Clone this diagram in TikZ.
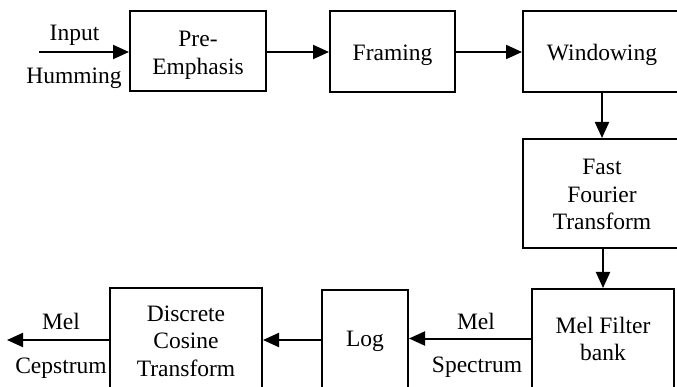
\documentclass[tikz,border=0pt]{standalone}
\usepackage{fontspec}
\setmainfont{Liberation Serif}
\usetikzlibrary{arrows.meta}
% block text: centred lines, optionally lowered inside the box
\newcommand\btext[2][0pt]{\raisebox{-#1}[\height][\depth]{\begin{tabular}{@{}c@{}}#2\end{tabular}}}
\tikzset{
  blk/.style={draw, line width=2pt, rectangle, inner sep=0pt,
    font=\fontsize{23.5}{27.5}\selectfont},
  lbl/.style={inner sep=0pt, anchor=base, font=\fontsize{23.5}{27.5}\selectfont},
  arr/.style={line width=2pt, -{Triangle[length=16pt,width=14pt]}}
}
\begin{document}
\begin{tikzpicture}[x=1pt,y=-1pt]
\useasboundingbox (0,0) rectangle (677,387);
\clip (0,0) rectangle (677,387);
% processing blocks
\node[blk, minimum width=136pt, minimum height=80pt]  (pre)   at (198,51)    {\btext[4pt]{Pre-\\Emphasis}};
\node[blk, minimum width=125pt, minimum height=81pt]  (frame) at (392.5,51.5) {\btext[3.7pt]{Framing}};
\node[blk, minimum width=158pt, minimum height=81pt]  (win)   at (602,51.5)  {\btext[3.5pt]{Windowing}};
\node[blk, minimum width=158pt, minimum height=109pt] (fft)   at (602,193.5) {\btext[3.5pt]{Fast\\Fourier\\Transform}};
\node[blk, minimum width=142pt, minimum height=102pt] (mel)   at (603,340)   {\btext[1.3pt]{Mel Filter\\bank}};
\node[blk, minimum width=86pt,  minimum height=100pt] (log)   at (365,340)   {\btext[0.8pt]{Log}};
\node[blk, minimum width=152pt, minimum height=104pt] (dct)   at (186,340)   {\btext[3pt]{Discrete\\Cosine\\Transform}};
% free ends of the input and output arrows
\coordinate (in)  at (39,52);
\coordinate (out) at (7,340);
% signal labels (placed by baseline)
\node[lbl] (linput) at (74.5,41)  {Input};
\node[lbl] (lhum)   at (74,84)    {Humming};
\node[lbl] (lmel)   at (476,329)  {Mel};
\node[lbl] (lspec)  at (477,372.5) {Spectrum};
\node[lbl] (lmel2)  at (61,329)   {Mel};
\node[lbl] (lcep)   at (61,373)   {Cepstrum};
% connectors
\draw[arr] (in) -- (pre.west |- in);
\draw[arr] (pre.east |- in) -- (frame.west |- in);
\draw[arr] (frame.east |- in) -- (win.west |- in);
\draw[arr] (win) -- (fft);
\draw[arr] (fft.south -| mel.north) -- (mel.north);
\draw[arr] (mel.west |- 0,338.5) -- (log.east |- 0,338.5);
\draw[arr] (log) -- (dct);
\draw[arr] (dct) -- (out);
\end{tikzpicture}
\end{document}
